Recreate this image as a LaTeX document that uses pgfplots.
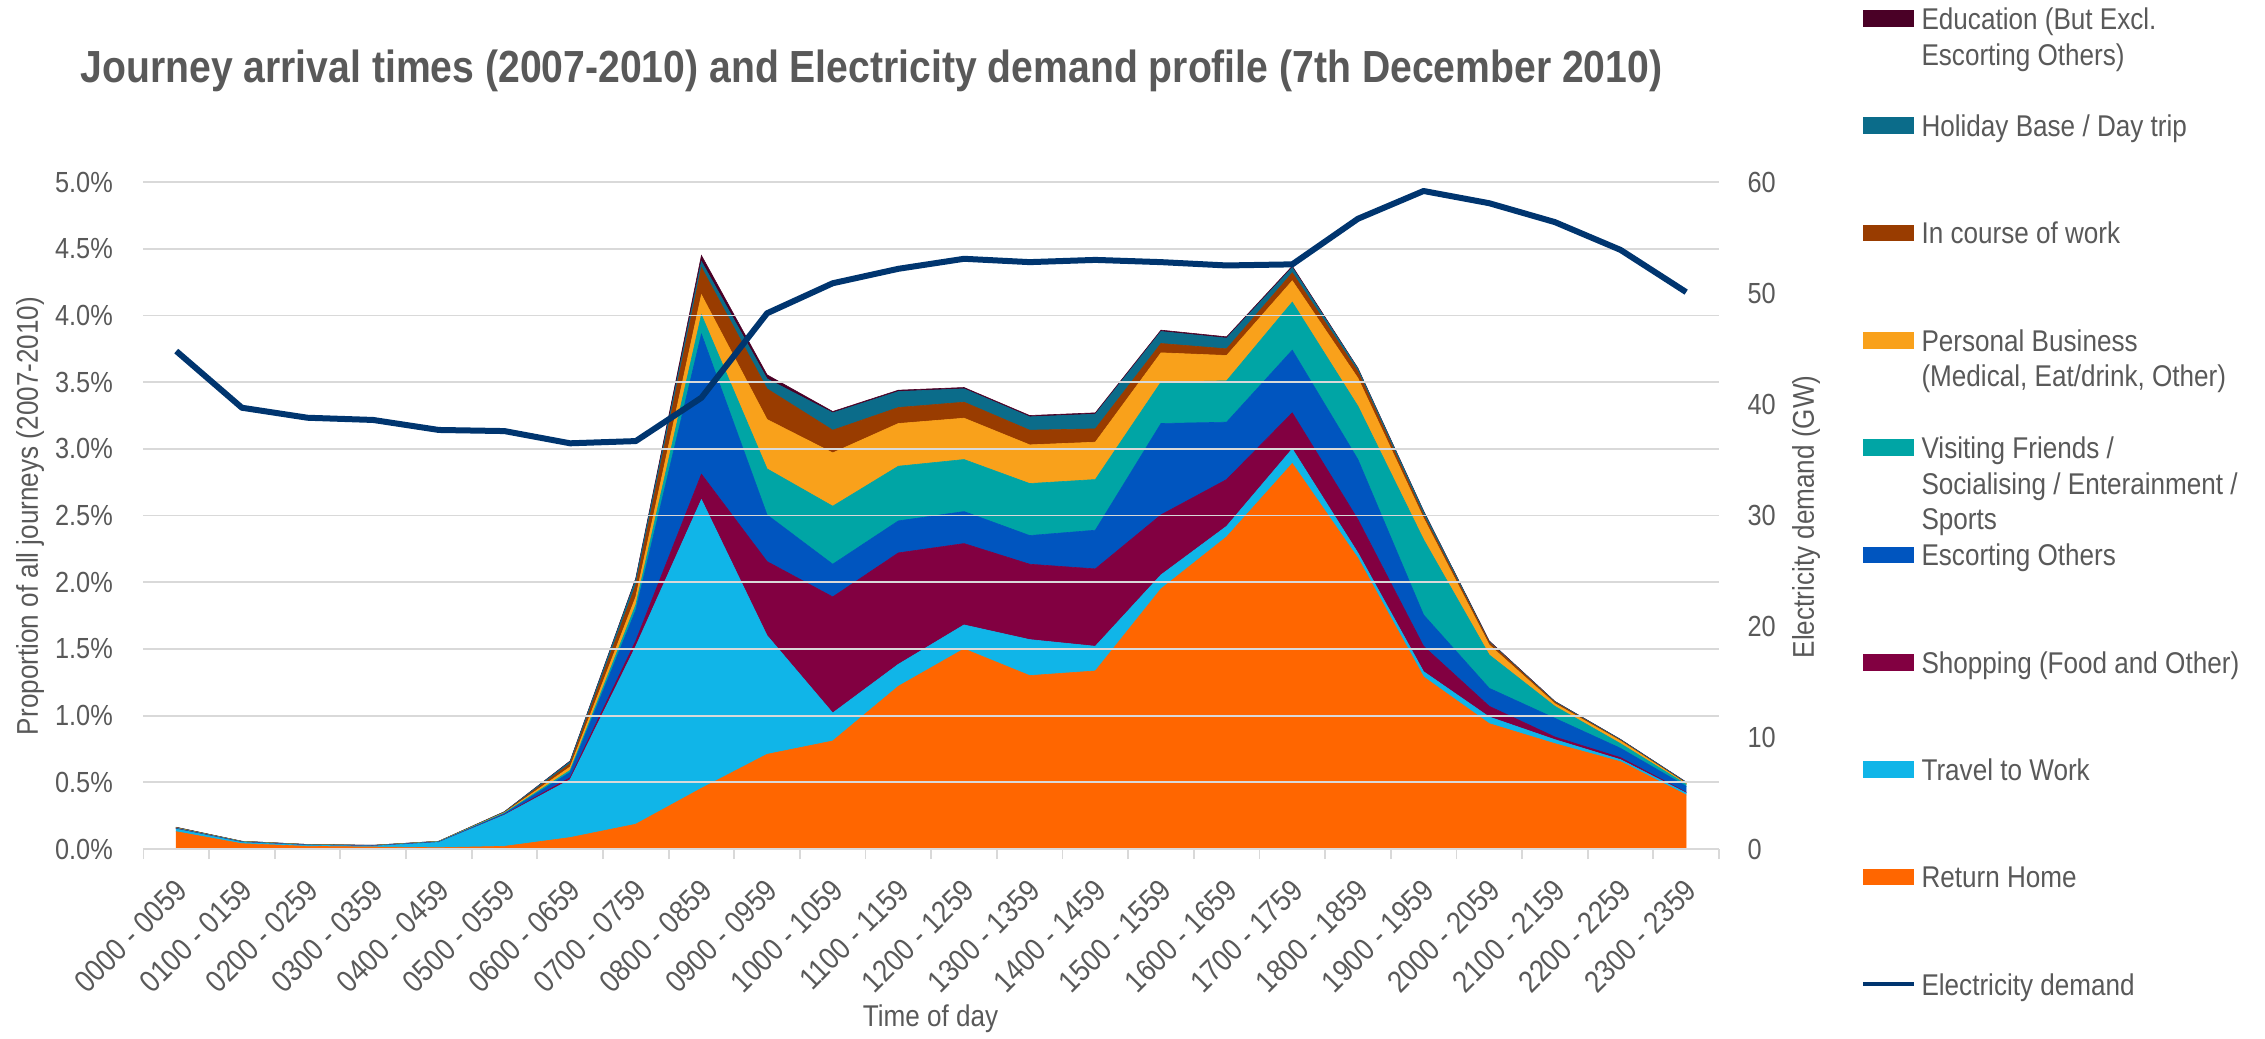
\documentclass[border=0pt]{standalone}
\usepackage{pgfplots}
\pgfplotsset{compat=1.18}
\usepackage{pgfplotstable}
\usepackage{fontspec}
\setmainfont{Liberation Sans}[FakeStretch=0.87]

\definecolor{cED}{HTML}{4A0026}
\definecolor{cHB}{HTML}{0B6C8A}
\definecolor{cIC}{HTML}{993C00}
\definecolor{cPB}{HTML}{F9A11B}
\definecolor{cVF}{HTML}{00A5A5}
\definecolor{cEO}{HTML}{0055BF}
\definecolor{cSH}{HTML}{820041}
\definecolor{cTW}{HTML}{10B5E8}
\definecolor{cRH}{HTML}{FF6600}
\definecolor{cEL}{HTML}{00356F}
\definecolor{textgray}{HTML}{595959}
\definecolor{gridgray}{HTML}{D9D9D9}

\pgfplotstableread{
x  RH    TW    SH    EO    VF    PB    IC    HB    ED
0  0.130 0.020 0.002 0.002 0.002 0.002 0.002 0.002 0.001
1  0.040 0.010 0.001 0.002 0.002 0.001 0.001 0.001 0.000
2  0.020 0.008 0.001 0.001 0.001 0.001 0.001 0.001 0.000
3  0.015 0.007 0.001 0.001 0.001 0.001 0.001 0.001 0.000
4  0.010 0.040 0.001 0.002 0.002 0.001 0.001 0.001 0.000
5  0.020 0.235 0.003 0.007 0.005 0.003 0.003 0.003 0.001
6  0.086 0.434 0.015 0.040 0.015 0.025 0.025 0.015 0.005
7  0.186 1.334 0.040 0.230 0.040 0.060 0.090 0.040 0.010
8  0.455 2.165 0.190 1.050 0.145 0.150 0.205 0.045 0.045
9  0.710 0.890 0.555 0.350 0.345 0.370 0.230 0.075 0.030
10 0.810 0.210 0.870 0.245 0.435 0.400 0.170 0.130 0.010
11 1.220 0.165 0.835 0.240 0.410 0.320 0.120 0.120 0.010
12 1.500 0.180 0.610 0.240 0.390 0.310 0.120 0.100 0.010
13 1.300 0.270 0.565 0.215 0.390 0.290 0.110 0.100 0.010
14 1.335 0.185 0.580 0.290 0.380 0.280 0.100 0.110 0.010
15 1.950 0.105 0.450 0.685 0.310 0.220 0.070 0.090 0.010
16 2.340 0.080 0.350 0.430 0.310 0.190 0.050 0.080 0.010
17 2.890 0.110 0.270 0.470 0.360 0.160 0.060 0.040 0.010
18 2.180 0.040 0.250 0.450 0.400 0.210 0.050 0.020 0.005
19 1.290 0.040 0.190 0.235 0.565 0.160 0.025 0.025 0.005
20 0.940 0.050 0.080 0.135 0.250 0.075 0.020 0.005 0.005
21 0.790 0.030 0.020 0.140 0.090 0.020 0.010 0.005 0.002
22 0.655 0.015 0.015 0.070 0.035 0.020 0.005 0.005 0.002
23 0.405 0.015 0.005 0.045 0.015 0.005 0.005 0.005 0.002
}\journeys

\pgfplotstableread{
x  GW
0  44.8
1  39.7
2  38.8
3  38.6
4  37.7
5  37.6
6  36.5
7  36.7
8  40.6
9  48.2
10 50.9
11 52.2
12 53.1
13 52.8
14 53.0
15 52.8
16 52.5
17 52.6
18 56.7
19 59.2
20 58.1
21 56.4
22 53.9
23 50.1
}\elec

\pgfplotsset{
  tickfont/.style={font=\fontsize{9.7}{11}\selectfont, text=textgray},
}

\begin{document}
\begin{tikzpicture}[font=\fontsize{10}{12}\selectfont, text=textgray]
\useasboundingbox (0,0) rectangle (755pt,346pt);

\begin{axis}[
  at={(47.8pt,63pt)}, anchor=south west,
  scale only axis, width=525.2pt, height=222.3pt,
  xmin=-0.5, xmax=23.5, ymin=0, ymax=5,
  stack plots=y, area style,
  separate axis lines,
  axis x line*=bottom, axis y line*=left,
  x axis line style={draw=gridgray, line width=0.6pt, -},
  y axis line style={draw=none},
  xtick={0,...,23},
  xticklabels={0000 - 0059,0100 - 0159,0200 - 0259,0300 - 0359,0400 - 0459,0500 - 0559,0600 - 0659,0700 - 0759,0800 - 0859,0900 - 0959,1000 - 1059,1100 - 1159,1200 - 1259,1300 - 1359,1400 - 1459,1500 - 1559,1600 - 1659,1700 - 1759,1800 - 1859,1900 - 1959,2000 - 2059,2100 - 2159,2200 - 2259,2300 - 2359},
  minor xtick={-0.5,0.5,...,23.5},
  major tick length=0pt, minor tick length=3.4pt, tick align=outside,
  xtick pos=lower, ytick pos=left,
  tick style={draw=gridgray, line width=0.6pt},
  ytick={0,0.5,1,1.5,2,2.5,3,3.5,4,4.5,5},
  yticklabels={0.0\%,0.5\%,1.0\%,1.5\%,2.0\%,2.5\%,3.0\%,3.5\%,4.0\%,4.5\%,5.0\%},
  ymajorgrids, major grid style={draw=gridgray, line width=0.6pt},
  xticklabel style={font=\fontsize{10.3}{12}\selectfont, text=textgray, rotate=45, anchor=east, inner sep=0pt, xshift=-7.2pt, yshift=-9.7pt},
  yticklabel style={tickfont, anchor=east, inner sep=0pt, xshift=-10pt},
]
\addplot[fill=cRH, draw=cRH, line width=0.2pt] table[x=x,y=RH]{\journeys} \closedcycle;
\addplot[fill=cTW, draw=cTW, line width=0.2pt] table[x=x,y=TW]{\journeys} \closedcycle;
\addplot[fill=cSH, draw=cSH, line width=0.2pt] table[x=x,y=SH]{\journeys} \closedcycle;
\addplot[fill=cEO, draw=cEO, line width=0.2pt] table[x=x,y=EO]{\journeys} \closedcycle;
\addplot[fill=cVF, draw=cVF, line width=0.2pt] table[x=x,y=VF]{\journeys} \closedcycle;
\addplot[fill=cPB, draw=cPB, line width=0.2pt] table[x=x,y=PB]{\journeys} \closedcycle;
\addplot[fill=cIC, draw=cIC, line width=0.2pt] table[x=x,y=IC]{\journeys} \closedcycle;
\addplot[fill=cHB, draw=cHB, line width=0.2pt] table[x=x,y=HB]{\journeys} \closedcycle;
\addplot[fill=cED, draw=cED, line width=0.2pt] table[x=x,y=ED]{\journeys} \closedcycle;
\end{axis}

\begin{axis}[
  at={(47.8pt,63pt)}, anchor=south west,
  scale only axis, width=525.2pt, height=222.3pt,
  xmin=-0.5, xmax=23.5, ymin=0, ymax=60,
  axis x line=none, axis y line*=right,
  y axis line style={draw=none},
  ytick={0,10,20,30,40,50,60},
  yticklabels={0,10,20,30,40,50,60},
  major tick length=0pt,
  yticklabel style={tickfont, anchor=west, inner sep=0pt, xshift=9.3pt},
]
\addplot[cEL, line width=2pt, line join=round, mark=none] table[x=x,y=GW]{\elec};
\end{axis}

\node[font=\bfseries\fontsize{15}{18}\selectfont, anchor=base] at (290.5pt,318.4pt)
  {Journey arrival times (2007-2010) and Electricity demand profile (7th December 2010)};
\node[rotate=90] at (10pt,174pt) {Proportion of all journeys (2007-2010)};
\node[rotate=90] at (602pt,173.7pt) {Electricity demand (GW)};
\node[anchor=base] at (310.2pt,3.7pt) {Time of day};

% legend
\def\lx{640.3pt}
\fill[cED] (621pt,339.83pt-2.8pt) rectangle (638pt,339.83pt+2.8pt);
\node[anchor=base west, inner sep=0pt] at (\lx,339.83pt-3.6pt) {Education (But Excl.};
\node[anchor=base west, inner sep=0pt] at (\lx,339.83pt-15.5pt) {Escorting Others)};
\fill[cHB] (621pt,304.07pt-2.8pt) rectangle (638pt,304.07pt+2.8pt);
\node[anchor=base west, inner sep=0pt] at (\lx,304.07pt-3.6pt) {Holiday Base / Day trip};
\fill[cIC] (621pt,268.3pt-2.8pt) rectangle (638pt,268.3pt+2.8pt);
\node[anchor=base west, inner sep=0pt] at (\lx,268.3pt-3.6pt) {In course of work};
\fill[cPB] (621pt,232.53pt-2.8pt) rectangle (638pt,232.53pt+2.8pt);
\node[anchor=base west, inner sep=0pt] at (\lx,232.53pt-3.6pt) {Personal Business};
\node[anchor=base west, inner sep=0pt] at (\lx,232.53pt-15.5pt) {(Medical, Eat/drink, Other)};
\fill[cVF] (621pt,196.77pt-2.8pt) rectangle (638pt,196.77pt+2.8pt);
\node[anchor=base west, inner sep=0pt] at (\lx,196.77pt-3.6pt) {Visiting Friends /};
\node[anchor=base west, inner sep=0pt] at (\lx,196.77pt-15.5pt) {Socialising / Enterainment /};
\node[anchor=base west, inner sep=0pt] at (\lx,196.77pt-27.4pt) {Sports};
\fill[cEO] (621pt,161pt-2.8pt) rectangle (638pt,161pt+2.8pt);
\node[anchor=base west, inner sep=0pt] at (\lx,161pt-3.6pt) {Escorting Others};
\fill[cSH] (621pt,125.23pt-2.8pt) rectangle (638pt,125.23pt+2.8pt);
\node[anchor=base west, inner sep=0pt] at (\lx,125.23pt-3.6pt) {Shopping (Food and Other)};
\fill[cTW] (621pt,89.47pt-2.8pt) rectangle (638pt,89.47pt+2.8pt);
\node[anchor=base west, inner sep=0pt] at (\lx,89.47pt-3.6pt) {Travel to Work};
\fill[cRH] (621pt,53.7pt-2.8pt) rectangle (638pt,53.7pt+2.8pt);
\node[anchor=base west, inner sep=0pt] at (\lx,53.7pt-3.6pt) {Return Home};
\draw[cEL, line width=1.3pt] (621pt,17.93pt) -- (638pt,17.93pt);
\node[anchor=base west, inner sep=0pt] at (\lx,17.93pt-3.6pt) {Electricity demand};
\end{tikzpicture}
\end{document}
